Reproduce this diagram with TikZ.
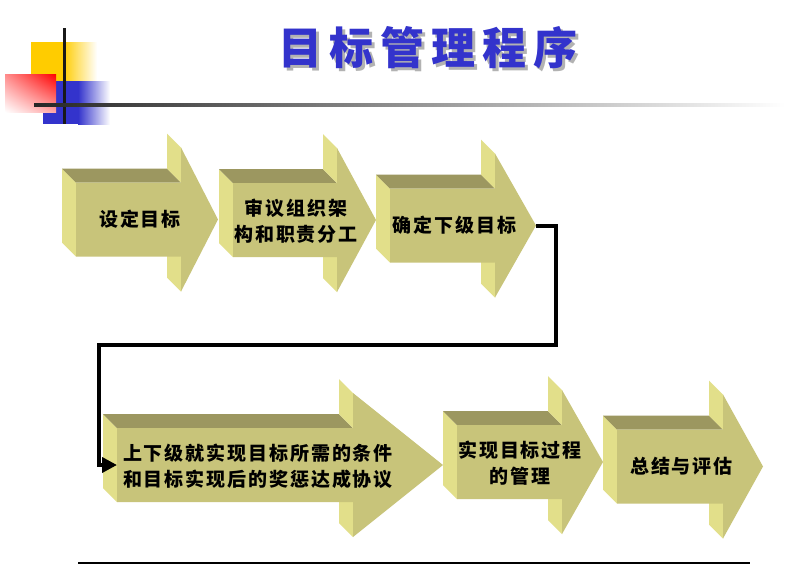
\documentclass[tikz,border=0pt]{standalone}
\usepackage{fontspec}
\usepackage{tikz}
\usetikzlibrary{arrows.meta,shadings}
\newfontfamily\cjk{Noto Sans CJK SC}[LetterSpace=10]
\newfontfamily\cjktitle{Noto Sans CJK SC}[LetterSpace=16]
\definecolor{frontcol}{RGB}{200,196,122}
\definecolor{topcol}{RGB}{156,151,96}
\definecolor{sidecol}{RGB}{226,223,138}
\definecolor{titleblue}{RGB}{51,51,204}
\definecolor{decoyellow}{RGB}{255,204,0}
\tikzset{
  frontface/.style={fill=frontcol},
  topface/.style={fill=topcol},
  sideface/.style={fill=sidecol},
  arrowtext/.style={font=\cjk\bfseries\fontsize{19}{26}\selectfont, align=center, inner sep=0pt},
  link/.style={line width=4pt, -{Triangle[length=15pt,width=15pt]}}
}
% name, left x, head x, tip x, centre y
\newcommand{\blockarrow}[5]{%
  \path[sideface] (#2,#5-37) -- (#2,#5+37) -- (#2-14,#5+23) -- (#2-14,#5-51) -- cycle;
  \path[topface] (#2-14,#5-51) -- (#3-14,#5-51) -- (#3,#5-37) -- (#2,#5-37) -- cycle;
  \path[sideface] (#3-14,#5-86) -- (#3,#5-72) -- (#3,#5-37) -- (#3-14,#5-51) -- cycle;
  \path[sideface] (#3-14,#5+23) -- (#3,#5+37) -- (#3,#5+72) -- (#3-14,#5+58) -- cycle;
  \path[frontface] (#2,#5-37) -- (#3,#5-37) -- (#3,#5-72) -- (#4,#5) -- (#3,#5+72) -- (#3,#5+37) -- (#2,#5+37) -- cycle;
  \coordinate (#1-left) at (#2,#5);
  \coordinate (#1-tip) at (#4,#5);
}
\begin{document}
\begin{tikzpicture}[x=1pt,y=-1pt]
\useasboundingbox [fill=white] (0,0) rectangle (807,574);

\fill [decoyellow] (31,42) rectangle (63,81);
\shade [left color=decoyellow, right color=white] (63,42) rectangle (97,81);
\fill [titleblue] (43,81) rectangle (78,124);
\shade [left color=titleblue, right color=white] (78,81) rectangle (110,124);
\shade [upper right=red, lower left=white, upper left=red!45!white, lower right=red!35!white] (5,74) rectangle (56,112);
\fill [black!90] (63,28) rectangle (66,124);
\shade [left color=black!85, right color=white] (34,103.5) rectangle (785,106.5);

\node [font=\cjktitle\bfseries\fontsize{44}{50}\selectfont, text=black!30] (titleshadow) at (431,51) {目标管理程序};
\node [font=\cjktitle\bfseries\fontsize{44}{50}\selectfont, text=titleblue] (title) at (428,48) {目标管理程序};

\blockarrow{a1}{76}{181}{218}{219.5}
\blockarrow{a2}{233}{337}{376}{220}
\blockarrow{a3}{390}{495}{536}{225.5}
\blockarrow{a4}{117}{353}{443}{465}
\blockarrow{a5}{457}{562}{603}{462}
\blockarrow{a6}{617}{723}{763}{466.5}

\node [arrowtext] (t1) at (140,219.5) {设定目标};
\node [arrowtext] (t2) at (296,221.5) {审议组织架\\构和职责分工};
\node [arrowtext] (t3) at (454.5,225.5) {确定下级目标};
\node [arrowtext] (t4) at (258,466) {上下级就实现目标所需的条件\\和目标实现后的奖惩达成协议};
\node [arrowtext] (t5) at (520,463) {实现目标过程\\的管理};
\node [arrowtext] (t6) at (681.5,466) {总结与评估};

\coordinate (bend1) at (556,345);
\coordinate (bend2) at (99,345);
\draw [link] (a3-tip) -| (bend1) -- (bend2) |- (a4-left);

\draw [line width=1.5pt] (78,563) -- (750,563);
\end{tikzpicture}
\end{document}
